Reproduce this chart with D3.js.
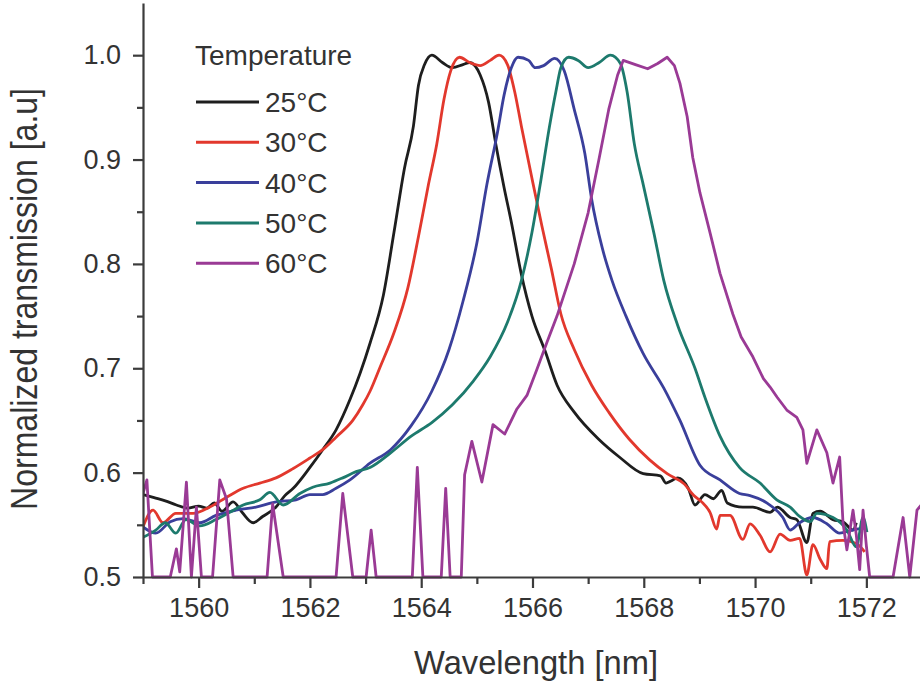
<!DOCTYPE html>
<html>
<head>
<meta charset="utf-8">
<script src="https://cdn.jsdelivr.net/npm/d3@7/dist/d3.min.js"></script>
<style>
  body { margin: 0; background: #fff; }
  svg { display: block; font-family: "Liberation Sans", Arial, sans-serif; }
</style>
</head>
<body>
<svg id="spectra"></svg>
<script>
const width = 920;
const height = 684;

// [wavelength nm, normalized transmission]
const t25 = [[1559.00,0.579],[1559.20,0.576],[1559.40,0.573],[1559.60,0.569],[1559.80,0.566],[1560.00,0.568],[1560.15,0.566],[1560.28,0.571],[1560.42,0.563],[1560.62,0.572],[1560.78,0.562],[1560.98,0.552],[1561.15,0.558],[1561.39,0.567],[1561.55,0.578],[1561.70,0.585],[1562.00,0.605],[1562.23,0.622],[1562.47,0.641],[1562.72,0.670],[1562.90,0.695],[1563.08,0.724],[1563.32,0.770],[1563.51,0.830],[1563.70,0.892],[1563.86,0.932],[1563.95,0.971],[1564.06,0.991],[1564.19,1.000],[1564.38,0.993],[1564.56,0.988],[1564.75,0.991],[1564.87,0.993],[1565.06,0.981],[1565.21,0.955],[1565.34,0.915],[1565.49,0.873],[1565.62,0.840],[1565.80,0.790],[1565.99,0.750],[1566.23,0.716],[1566.44,0.684],[1566.75,0.658],[1567.19,0.632],[1567.56,0.615],[1567.99,0.599],[1568.30,0.597],[1568.40,0.590],[1568.49,0.592],[1568.61,0.595],[1568.80,0.585],[1568.92,0.569],[1569.10,0.579],[1569.25,0.575],[1569.40,0.583],[1569.50,0.571],[1569.78,0.567],[1569.96,0.567],[1570.27,0.562],[1570.40,0.567],[1570.63,0.557],[1570.75,0.555],[1570.93,0.533],[1571.04,0.561],[1571.17,0.563],[1571.40,0.555],[1571.58,0.553],[1571.76,0.545],[1571.82,0.552]];
const t30 = [[1559.00,0.548],[1559.18,0.564],[1559.36,0.552],[1559.59,0.561],[1559.90,0.561],[1560.20,0.567],[1560.49,0.576],[1560.80,0.585],[1561.10,0.590],[1561.39,0.595],[1561.70,0.604],[1562.00,0.614],[1562.23,0.622],[1562.47,0.634],[1562.77,0.650],[1562.95,0.665],[1563.08,0.678],[1563.26,0.701],[1563.51,0.734],[1563.76,0.777],[1563.95,0.826],[1564.13,0.876],[1564.28,0.915],[1564.41,0.958],[1564.53,0.985],[1564.69,0.998],[1564.87,0.993],[1565.06,0.990],[1565.24,0.995],[1565.40,1.000],[1565.55,0.991],[1565.68,0.965],[1565.80,0.932],[1565.99,0.882],[1566.17,0.836],[1566.34,0.795],[1566.51,0.752],[1566.75,0.718],[1567.06,0.684],[1567.37,0.658],[1567.74,0.632],[1568.11,0.612],[1568.42,0.599],[1568.73,0.589],[1568.90,0.578],[1569.04,0.572],[1569.19,0.562],[1569.31,0.546],[1569.37,0.559],[1569.55,0.559],[1569.78,0.536],[1569.91,0.551],[1570.09,0.540],[1570.27,0.524],[1570.45,0.541],[1570.63,0.535],[1570.80,0.537],[1570.93,0.502],[1571.04,0.531],[1571.17,0.517],[1571.29,0.508],[1571.34,0.534],[1571.58,0.535],[1571.82,0.532],[1571.97,0.524]];
const t40 = [[1559.00,0.548],[1559.23,0.542],[1559.49,0.553],[1559.72,0.556],[1560.02,0.552],[1560.31,0.559],[1560.67,0.564],[1561.03,0.567],[1561.39,0.572],[1561.75,0.574],[1562.00,0.579],[1562.23,0.579],[1562.47,0.585],[1562.72,0.593],[1563.08,0.609],[1563.45,0.622],[1563.82,0.645],[1564.19,0.678],[1564.50,0.718],[1564.75,0.764],[1565.00,0.820],[1565.18,0.876],[1565.37,0.926],[1565.49,0.962],[1565.62,0.988],[1565.74,0.998],[1565.93,0.995],[1566.05,0.988],[1566.20,0.990],[1566.40,0.997],[1566.57,0.985],[1566.75,0.948],[1566.94,0.906],[1567.06,0.863],[1567.25,0.816],[1567.43,0.784],[1567.68,0.750],[1567.99,0.714],[1568.36,0.681],[1568.65,0.650],[1569.01,0.607],[1569.37,0.593],[1569.72,0.580],[1569.91,0.578],[1570.21,0.571],[1570.50,0.557],[1570.63,0.545],[1570.80,0.552],[1571.04,0.557],[1571.29,0.551],[1571.52,0.542],[1571.75,0.545],[1572.01,0.547]];
const t50 = [[1559.00,0.538],[1559.23,0.545],[1559.40,0.552],[1559.59,0.542],[1559.77,0.555],[1560.02,0.549],[1560.31,0.555],[1560.56,0.562],[1560.80,0.569],[1561.10,0.574],[1561.28,0.581],[1561.52,0.569],[1561.82,0.580],[1562.05,0.586],[1562.36,0.590],[1562.59,0.595],[1562.83,0.601],[1563.08,0.605],[1563.45,0.619],[1563.82,0.635],[1564.19,0.648],[1564.56,0.665],[1564.94,0.688],[1565.24,0.711],[1565.55,0.744],[1565.80,0.784],[1565.99,0.830],[1566.15,0.880],[1566.30,0.930],[1566.42,0.965],[1566.51,0.988],[1566.65,0.998],[1566.82,0.995],[1567.00,0.988],[1567.20,0.993],[1567.40,1.000],[1567.58,0.992],[1567.70,0.965],[1567.83,0.915],[1567.99,0.876],[1568.18,0.830],[1568.36,0.784],[1568.61,0.741],[1568.92,0.700],[1569.10,0.672],[1569.37,0.635],[1569.72,0.605],[1570.09,0.590],[1570.39,0.574],[1570.63,0.567],[1570.80,0.558],[1570.99,0.553],[1571.11,0.561],[1571.40,0.557],[1571.65,0.545],[1571.82,0.529],[1571.94,0.557],[1572.01,0.543]];
const t60 = [[1559.00,0.580],[1559.07,0.593],[1559.17,0.500],[1559.49,0.500],[1559.60,0.527],[1559.66,0.505],[1559.78,0.591],[1559.87,0.500],[1559.96,0.567],[1560.05,0.500],[1560.25,0.500],[1560.38,0.593],[1560.50,0.575],[1560.62,0.500],[1561.23,0.500],[1561.33,0.570],[1561.52,0.500],[1562.47,0.500],[1562.59,0.580],[1562.77,0.500],[1563.01,0.500],[1563.10,0.545],[1563.19,0.500],[1563.84,0.500],[1563.93,0.605],[1564.03,0.500],[1564.36,0.500],[1564.44,0.585],[1564.52,0.500],[1564.72,0.500],[1564.78,0.598],[1564.91,0.630],[1565.09,0.591],[1565.29,0.646],[1565.50,0.637],[1565.72,0.661],[1565.90,0.674],[1566.08,0.699],[1566.26,0.725],[1566.44,0.750],[1566.75,0.800],[1567.00,0.849],[1567.19,0.899],[1567.37,0.948],[1567.53,0.981],[1567.63,0.995],[1567.85,0.991],[1568.07,0.987],[1568.25,0.992],[1568.42,0.998],[1568.55,0.990],[1568.65,0.973],[1568.78,0.941],[1568.88,0.902],[1569.01,0.868],[1569.19,0.830],[1569.37,0.791],[1569.60,0.752],[1569.75,0.730],[1569.96,0.711],[1570.15,0.690],[1570.27,0.682],[1570.40,0.672],[1570.57,0.660],[1570.75,0.653],[1570.86,0.641],[1570.93,0.609],[1571.11,0.641],[1571.29,0.619],[1571.40,0.590],[1571.52,0.615],[1571.58,0.552],[1571.65,0.526],[1571.76,0.564],[1571.82,0.540],[1571.88,0.507],[1571.94,0.564],[1572.00,0.530],[1572.06,0.500],[1572.48,0.500],[1572.66,0.557],[1572.78,0.500],[1572.91,0.564],[1573.00,0.570]];

const series = [t25, t30, t40, t50, t60];
const labels = ["25°C", "30°C", "40°C", "50°C", "60°C"];
const colors = ["#1e1e1e", "#e2382d", "#3a3f9b", "#1d7a6d", "#9a3a95"];

const xMajor = [1560, 1562, 1564, 1566, 1568, 1570, 1572];
const xMinor = [1559, 1561, 1563, 1565, 1567, 1569, 1571, 1573];
const yMajor = [0.5, 0.6, 0.7, 0.8, 0.9, 1.0];
const yMinor = [0.55, 0.65, 0.75, 0.85, 0.95];

const svg = d3.select("svg#spectra")
  .attr("width", width)
  .attr("height", height);

const margin = { top: 3, bottom: 107, left: 143, right: -2 };

const x = d3.scaleLinear()
  .domain([1559, 1573])
  .range([margin.left, width - margin.right]);
const y = d3.scaleLinear()
  .domain([0.5, 1.05])
  .range([height - margin.bottom, margin.top]);

svg.append("defs").append("clipPath").attr("id", "plotclip")
  .append("rect")
  .attr("x", margin.left).attr("y", 0)
  .attr("width", width - margin.left).attr("height", height - margin.bottom + 2);

// curves: smooth for the clean spectra, straight segments for the noisy 60C trace
const smooth = d3.line()
  .curve(d3.curveMonotoneX)
  .x(d => x(d[0]))
  .y(d => y(d[1]));
const jagged = d3.line()
  .x(d => x(d[0]))
  .y(d => y(d[1]));

svg.append("g").attr("id", "curves")
  .attr("clip-path", "url(#plotclip)")
  .selectAll("path")
  .data(series)
  .enter()
  .append("path")
    .attr("d", (d, i) => i == 4 ? jagged(d) : smooth(d))
    .attr("fill", "none")
    .attr("stroke", (d, i) => colors[i])
    .attr("stroke-width", 2.8)
    .attr("stroke-linejoin", "round");

// axes
const axisColor = "#3c3c3c";

svg.append("g")
  .attr("transform", "translate(0," + y(0.5) + ")")
  .attr("color", axisColor)
  .call(d3.axisBottom(x).tickValues(xMajor).tickFormat(d3.format("d")).tickSize(11).tickSizeOuter(0).tickPadding(10));
svg.append("g")
  .attr("transform", "translate(0," + y(0.5) + ")")
  .attr("color", axisColor)
  .call(d3.axisBottom(x).tickValues(xMinor).tickFormat("").tickSize(7).tickSizeOuter(0))
  .select(".domain").remove();

svg.append("g")
  .attr("transform", "translate(" + x(1559) + ",0)")
  .attr("color", axisColor)
  .call(d3.axisLeft(y).tickValues(yMajor).tickFormat(d3.format(".1f")).tickSize(10).tickSizeOuter(0).tickPadding(12));
svg.append("g")
  .attr("transform", "translate(" + x(1559) + ",0)")
  .attr("color", axisColor)
  .call(d3.axisLeft(y).tickValues(yMinor).tickFormat("").tickSize(6).tickSizeOuter(0))
  .select(".domain").remove();

svg.selectAll(".domain, .tick line").attr("stroke-width", 2.2);
svg.selectAll(".tick text")
  .style("font-size", "27px")
  .attr("fill", "#333");

// axis titles
svg.append("text")
  .attr("x", 536)
  .attr("y", 674)
  .attr("text-anchor", "middle")
  .attr("textLength", 244)
  .attr("lengthAdjust", "spacingAndGlyphs")
  .style("font-size", "34px")
  .attr("fill", "#333")
  .text("Wavelength [nm]");

svg.append("text")
  .attr("transform", "translate(37,299) rotate(-90)")
  .attr("text-anchor", "middle")
  .attr("textLength", 422)
  .attr("lengthAdjust", "spacingAndGlyphs")
  .style("font-size", "36px")
  .attr("fill", "#333")
  .text("Normalized transmission [a.u]");

// legend
const legend = svg.append("g").attr("id", "legend");
legend.append("text")
  .attr("x", 195)
  .attr("y", 65)
  .style("font-size", "28px")
  .attr("fill", "#333")
  .text("Temperature");

const rows = legend.selectAll("g.row")
  .data(labels)
  .enter()
  .append("g")
    .attr("class", "row")
    .attr("transform", (d, i) => "translate(0," + (102 + i * 40.3) + ")");
rows.append("line")
  .attr("x1", 196).attr("x2", 259)
  .attr("stroke", (d, i) => colors[i])
  .attr("stroke-width", 3);
rows.append("text")
  .attr("x", 265)
  .attr("y", 10)
  .style("font-size", "28px")
  .attr("fill", "#333")
  .text(d => d);
</script>
</body>
</html>
